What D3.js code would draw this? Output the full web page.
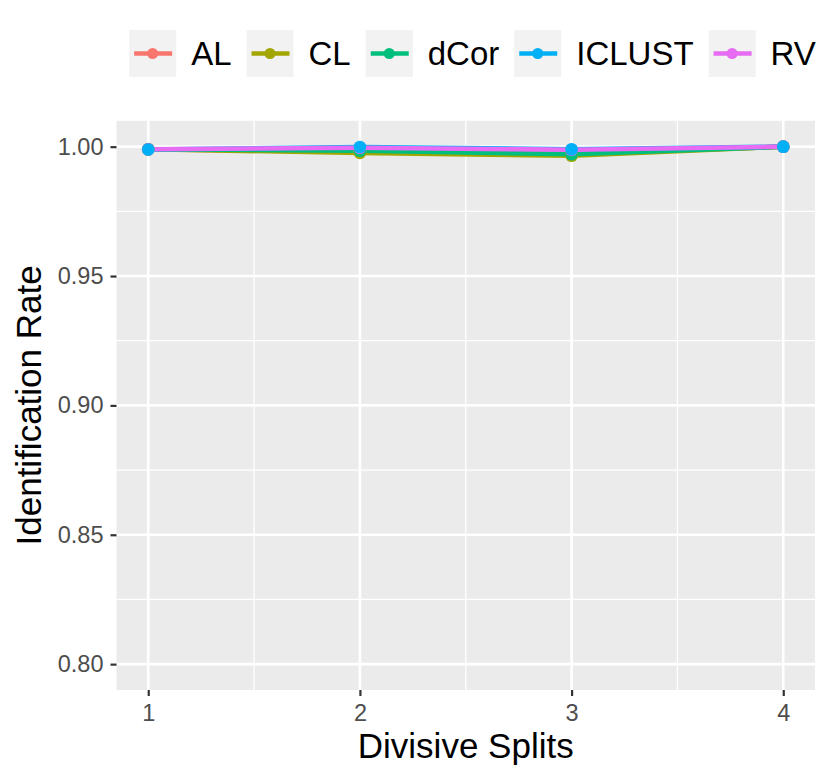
<!DOCTYPE html>
<html><head><meta charset="utf-8">
<script src="https://cdn.jsdelivr.net/npm/d3@7"></script>
<style>body{margin:0;background:#fff}svg{display:block;font-family:"Liberation Sans",Arial,Helvetica,sans-serif}</style>
</head><body>
<svg id="c" width="830" height="782"></svg>
<script>
const splits = [1, 2, 3, 4];
const methods = ["AL", "CL", "dCor", "ICLUST", "RV"];
const colors = ["#F8766D", "#A3A500", "#00BF7D", "#00B0F6", "#E76BF3"];
const AL = [0.999, 0.998, 0.9972, 1.000];
const CL = [0.999, 0.9976, 0.9965, 1.000];
const dCor = [0.999, 0.9984, 0.9971, 1.000];
const ICLUST = [0.9989, 0.9999, 0.9990, 1.000];
const RV = [0.999, 0.9996, 0.9988, 1.000];
const yTicks = [0.80, 0.85, 0.90, 0.95, 1.00];
const yMinor = [0.825, 0.875, 0.925, 0.975];
const xMinor = [1.5, 2.5, 3.5];
const seriesValues = [AL, CL, dCor, ICLUST, RV];

const svg = d3.select("#c");
const P = {left: 116.5, right: 815, top: 120.8, bottom: 690};
const x = d3.scaleLinear().domain([0.85, 4.15]).range([P.left, P.right]);
const y = d3.scaleLinear().domain([0.79, 1.01]).range([P.bottom, P.top]);

svg.append("rect").attr("x", P.left).attr("y", P.top).attr("width", P.right - P.left).attr("height", P.bottom - P.top).attr("fill", "#EBEBEB");
const g = svg.append("g");
g.selectAll(".ymin").data(yMinor).join("line").attr("x1", P.left).attr("x2", P.right).attr("y1", d => y(d)).attr("y2", d => y(d)).attr("stroke", "#fff").attr("stroke-width", 1.3);
g.selectAll(".xmin").data(xMinor).join("line").attr("y1", P.top).attr("y2", P.bottom).attr("x1", d => x(d)).attr("x2", d => x(d)).attr("stroke", "#fff").attr("stroke-width", 1.3);
g.selectAll(".ymaj").data(yTicks).join("line").attr("x1", P.left).attr("x2", P.right).attr("y1", d => y(d)).attr("y2", d => y(d)).attr("stroke", "#fff").attr("stroke-width", 2.6);
g.selectAll(".xmaj").data(splits).join("line").attr("y1", P.top).attr("y2", P.bottom).attr("x1", d => x(d)).attr("x2", d => x(d)).attr("stroke", "#fff").attr("stroke-width", 2.6);

// axes
const yAxis = d3.axisLeft(y).tickValues(yTicks).tickFormat(d3.format(".2f")).tickSize(6).tickPadding(7);
const ya = svg.append("g").attr("transform", `translate(${P.left},0)`).call(yAxis);
const xAxis = d3.axisBottom(x).tickValues(splits).tickFormat(d3.format("d")).tickSize(6).tickPadding(8);
const xa = svg.append("g").attr("transform", `translate(0,${P.bottom})`).call(xAxis);
[ya, xa].forEach(a => {
  a.select(".domain").remove();
  a.selectAll(".tick line").attr("stroke", "#333333").attr("stroke-width", 2.2);
  a.selectAll(".tick text").attr("fill", "#4D4D4D").style("font-size", "23.5px").style("font-family", '"Liberation Sans",Arial,sans-serif');
});

// lines
const line = d3.line().x((d, i) => x(splits[i])).y(d => y(d));
methods.forEach((m, k) => {
  svg.append("path").datum(seriesValues[k]).attr("d", line).attr("fill", "none").attr("stroke", colors[k]).attr("stroke-width", 4.6).attr("stroke-linejoin", "round");
});
// points (data order puts ICLUST last)
const pointOrder = [0, 1, 2, 4, 3];
pointOrder.forEach(k => {
  svg.append("g").selectAll("circle").data(seriesValues[k]).join("circle")
    .attr("cx", (d, i) => x(splits[i])).attr("cy", d => y(d)).attr("r", 6.3).attr("fill", colors[k]);
});

// axis titles
svg.append("text").attr("x", (P.left + P.right) / 2).attr("y", 758).attr("text-anchor", "middle").style("font-size", "35px").attr("fill", "#000").text("Divisive Splits");
svg.append("text").attr("transform", `translate(41,${(P.top + P.bottom) / 2}) rotate(-90)`).attr("text-anchor", "middle").style("font-size", "35px").attr("fill", "#000").text("Identification Rate");

// legend
const leg = svg.append("g");
const keyW = 47, gapKT = 15, gapItem = 15;
let cx = 0;
methods.forEach((m, k) => {
  const it = leg.append("g").attr("transform", `translate(${cx},0)`);
  it.append("rect").attr("x", 0).attr("y", 30).attr("width", keyW).attr("height", keyW).attr("fill", "#F2F2F2");
  it.append("line").attr("x1", 5).attr("x2", keyW - 4).attr("y1", 53.5).attr("y2", 53.5).attr("stroke", colors[k]).attr("stroke-width", 4.6);
  it.append("circle").attr("cx", keyW / 2).attr("cy", 53.5).attr("r", 5.5).attr("fill", colors[k]);
  const t = it.append("text").attr("x", keyW + gapKT).attr("y", 65).style("font-size", "33px").attr("fill", "#000").text(m);
  const w = t.node().getComputedTextLength();
  cx += keyW + gapKT + w + gapItem;
});
const total = cx - gapItem;
leg.attr("transform", `translate(${133 + ((812 - 133) - total) / 2},0)`);
</script>
</body></html>
